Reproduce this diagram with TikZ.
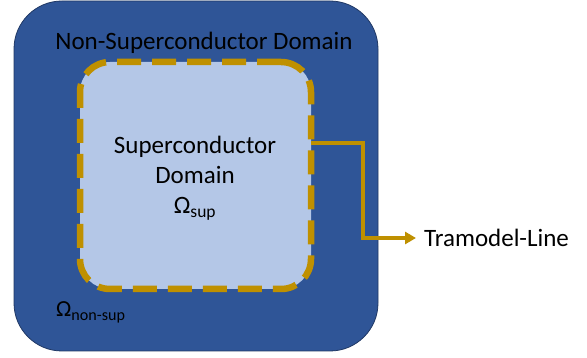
\documentclass[tikz,border=0pt]{standalone}
\usepackage{fontspec}
\setmainfont{Carlito}
\usetikzlibrary{arrows.meta, positioning}

\definecolor{nsblue}{HTML}{2F5597}
\definecolor{nsedge}{HTML}{203864}
\definecolor{supblue}{HTML}{B4C7E7}
\definecolor{tragold}{HTML}{BF9000}

\begin{document}
\begin{tikzpicture}[
    x=1pt, y=-1pt,
    outerdom/.style={draw=nsedge, line width=0.8pt, fill=nsblue, rectangle, rounded corners=48pt, minimum width=364pt, minimum height=350pt},
    innerdom/.style={draw=tragold, line width=6.5pt, dash pattern=on 24pt off 11pt, fill=supblue, rectangle, rounded corners=30pt, minimum width=231pt, minimum height=227pt},
    label/.style={font=\fontsize{25}{30}\selectfont, text=black, inner sep=0pt, anchor=base},
    feed/.style={draw=tragold, line width=3.5pt, -{Triangle[length=11pt,width=12pt]}},
]
\useasboundingbox (0,0) rectangle (587,358);

% Domains
\node[outerdom] (nonsup) at (196,176) {};
\node[innerdom] (sup) at (195.5,175.5) {};

% Labels
\node[label] (nonsuptitle) at (204,50) {Non-Superconductor Domain};
\node[label, anchor=center, align=center] (suptitle) at (195,178) {Superconductor\\Domain\\Ω\textsubscript{sup}};
\node[label, anchor=base west, font=\fontsize{23}{27}\selectfont] (omeganonsup) at (56,317) {Ω\textsubscript{non-sup}};

% Tramodel line
\coordinate (tap) at (311,143);
\node[label, anchor=west] (tline) at (424,238) {Tramodel-Line};
\draw[feed] (tap) -- (363,143) |- ([xshift=-8pt]tline.west);

\end{tikzpicture}
\end{document}
